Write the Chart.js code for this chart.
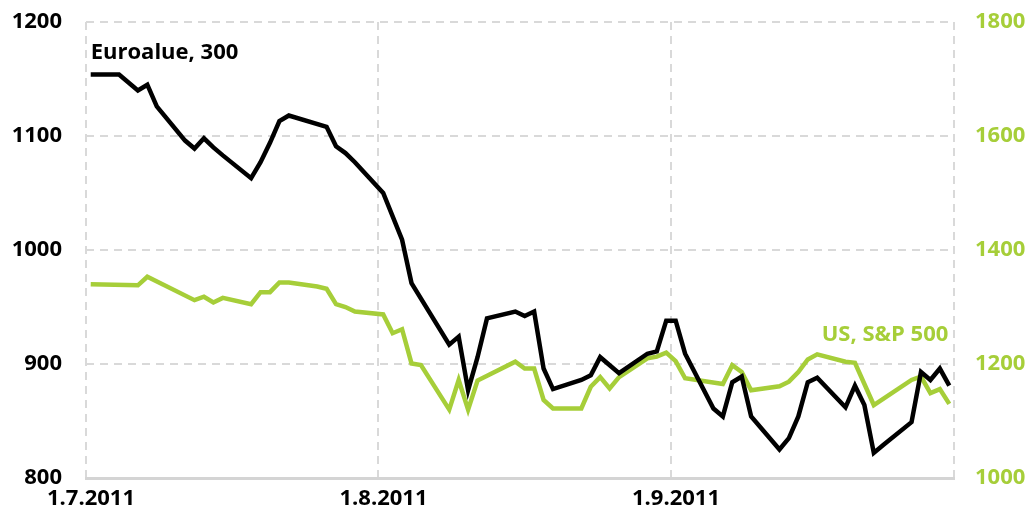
<!DOCTYPE html>
<html>
<head>
<meta charset="utf-8">
<script src="https://cdn.jsdelivr.net/npm/chart.js@4/dist/chart.umd.min.js"></script>
<style>
  html, body { margin: 0; padding: 0; background: #fff; }
  #wrap { width: 1035px; height: 525px; }
</style>
</head>
<body>
<div id="wrap"><canvas id="chart"></canvas></div>
<script>
// Euro area vs S&P 500, Jul–Sep 2011. x = day number from 1.7.2011.

const BLACK = '#000000';
const GREEN = '#a6ce39';
const GRID = '#d9d9d9';

// --- Data -------------------------------------------------------------------

const xTickDays = [-0.5, 30.5, 61.5, 91.5];
const xTickLabels = ['1.7.2011', '1.8.2011', '1.9.2011', ''];
const leftTicks = [800, 900, 1000, 1100, 1200];
const rightTicks = [1000, 1200, 1400, 1600, 1800];

const euroDays = [0, 3, 5, 6, 7, 10, 11, 12, 13, 14, 17, 18, 19, 20, 21, 25, 26, 27, 28,
  31, 33, 34, 38, 39, 40, 41, 42, 45, 46, 47, 48, 49, 52, 53, 54, 56, 59, 60, 61,
  62, 63, 66, 67, 68, 69, 70, 73, 74, 75, 76, 77, 80, 81, 82, 83, 84, 87, 88, 89, 90, 91];
const euroValues = [1154, 1154, 1140, 1145, 1126, 1096, 1089, 1098, 1090, 1083, 1063, 1077, 1094, 1113, 1118, 1108, 1091, 1085, 1077,
  1050, 1009, 971, 917, 924, 877, 906, 940, 946, 942, 946, 896, 878, 886, 890, 906, 892, 909, 911, 938,
  938, 909, 861, 854, 884, 889, 854, 825, 835, 854, 884, 888, 862, 881, 864, 822, 829, 849, 893, 886, 896, 881];

const spDays = [0, 5, 6, 11, 12, 13, 14, 17, 18, 19, 20, 21, 24, 25, 26, 27, 28,
  31, 32, 33, 34, 35, 38, 39, 40, 41, 45, 46, 47, 48, 49, 52, 53, 54, 55, 56, 59, 60, 61,
  62, 63, 67, 68, 69, 70, 73, 74, 75, 76, 77, 80, 81, 83, 87, 88, 89, 90, 91];
const spValues = [1340, 1338, 1353, 1312, 1318, 1308, 1316, 1305, 1326, 1326, 1343, 1343, 1336, 1332, 1305, 1300, 1292,
  1287, 1254, 1261, 1201, 1198, 1120, 1172, 1120, 1171, 1204, 1192, 1192, 1137, 1122, 1122, 1160, 1177, 1157, 1177, 1210, 1213, 1220,
  1205, 1175, 1165, 1198, 1186, 1154, 1161, 1169, 1186, 1208, 1217, 1204, 1202, 1128, 1172, 1178, 1149, 1156, 1130];

const seriesLabels = ['Euroalue, 300', 'US, S&P 500'];

// --- Helpers ----------------------------------------------------------------

const FONT = { family: "'Open Sans', sans-serif", size: 22, weight: 'bold' };

function toPoints(days, values) {
  return days.map((d, i) => ({ x: d, y: values[i] }));
}

function fixedTicks(values) {
  return axis => { axis.ticks = values.map(v => ({ value: v })); };
}

// fixed axis width, and no extra room for label overhang at top/bottom
function fixedWidth(w) {
  return axis => {
    axis.width = w;
    axis.paddingTop = 0;
    axis.paddingBottom = 0;
  };
}

// series names drawn next to the lines, anchored on the scales
const seriesNames = {
  id: 'seriesNames',
  afterDatasetsDraw(chart) {
    const { ctx, scales } = chart;
    ctx.save();
    ctx.font = `bold ${FONT.size}px ${FONT.family}`;
    ctx.textBaseline = 'middle';
    ctx.fillStyle = BLACK;
    ctx.textAlign = 'left';
    ctx.fillText(seriesLabels[0], scales.x.getPixelForValue(0), scales.yL.getPixelForValue(1173));
    ctx.fillStyle = GREEN;
    ctx.textAlign = 'right';
    ctx.fillText(seriesLabels[1], scales.x.getPixelForValue(90.9), scales.yR.getPixelForValue(1251));
    ctx.restore();
  }
};

// --- Chart ------------------------------------------------------------------

new Chart(document.getElementById('chart'), {
  type: 'line',
  data: {
    datasets: [
      {
        label: seriesLabels[0],
        data: toPoints(euroDays, euroValues),
        yAxisID: 'yL',
        borderColor: BLACK,
        borderWidth: 4.5,
        pointRadius: 0,
        tension: 0,
      },
      {
        label: seriesLabels[1],
        data: toPoints(spDays, spValues),
        yAxisID: 'yR',
        borderColor: GREEN,
        borderWidth: 4.5,
        pointRadius: 0,
        tension: 0,
      },
    ],
  },
  options: {
    responsive: true,
    maintainAspectRatio: false,
    animation: false,
    layout: { padding: { top: 22, left: 0, right: 0, bottom: 0 } },
    plugins: {
      legend: { display: false },
      tooltip: { enabled: false },
    },
    scales: {
      x: {
        type: 'linear',
        min: -0.5,
        max: 91.5,
        afterBuildTicks: fixedTicks(xTickDays),
        afterFit: axis => { axis.height = 47; },
        grid: { color: GRID, lineWidth: 2, drawTicks: false },
        border: { display: true, color: '#d4d4d4', width: 3, dash: [8, 6] },
        ticks: {
          color: BLACK,
          font: FONT,
          padding: 8,
          labelOffset: 5,
          autoSkip: false,
          maxRotation: 0,
          callback: (v, i) => xTickLabels[i],
        },
      },
      yL: {
        position: 'left',
        min: 800,
        max: 1200,
        afterBuildTicks: fixedTicks(leftTicks),
        afterFit: fixedWidth(86),
        grid: {
          color: ctx => (ctx.tick && ctx.tick.value === 800 ? 'rgba(0,0,0,0)' : GRID),
          lineWidth: 2,
          drawTicks: false,
        },
        border: { display: false, dash: [8, 6] },
        ticks: { color: BLACK, font: FONT, padding: 24, callback: v => String(v) },
      },
      yR: {
        position: 'right',
        min: 1000,
        max: 1800,
        afterBuildTicks: fixedTicks(rightTicks),
        afterFit: fixedWidth(81),
        grid: { display: false },
        border: { display: false },
        ticks: { color: GREEN, font: FONT, padding: 13, callback: v => String(v) },
      },
    },
  },
  plugins: [seriesNames],
});
</script>
</body>
</html>
